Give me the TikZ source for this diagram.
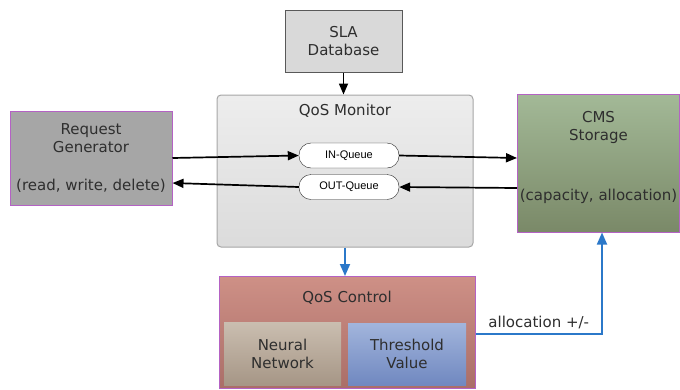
\documentclass[tikz,border=0pt]{standalone}
\usepackage{fontspec}
\setmainfont{DejaVu Sans}
\newfontfamily\queuefont{Liberation Sans}
\usetikzlibrary{arrows.meta}
\definecolor{boxpurple}{HTML}{B462C4}
\definecolor{arrblue}{HTML}{2B78C9}
\definecolor{txtgray}{HTML}{2E2E2E}
\tikzset{
  box/.style={draw=boxpurple, line width=1pt, inner sep=0pt, align=center, text=txtgray,
    font=\fontsize{15}{18}\selectfont},
  txt/.style={inner sep=0pt, align=center, text=txtgray, font=\fontsize{15}{18}\selectfont},
  queue/.style={draw=black!85, fill=white, rounded corners=12pt, minimum width=100pt,
    minimum height=25pt, inner sep=0pt, font=\queuefont\fontsize{11}{12}\selectfont},
  blk/.style={line width=1.7pt, -{Triangle[length=11pt,width=9pt]}},
  blu/.style={line width=1.8pt, draw=arrblue, -{Triangle[length=12pt,width=10pt]}, color=arrblue}
}
\begin{document}
\begin{tikzpicture}[x=1pt,y=-1pt]
\useasboundingbox (0,0) rectangle (680,389);
\node[box, draw=black!65, fill=black!15, minimum width=117pt, minimum height=62pt] (sla) at (343.5,41) {SLA\\Database};
\node[box, draw=black!35, top color=black!7, bottom color=black!14, rounded corners=4pt,
  minimum width=256pt, minimum height=152pt] (monitor) at (345,171) {};
\node[txt] (montitle) at (345,111) {QoS Monitor};
\node[queue] (inq) at (349,155.5) {IN-Queue};
\node[queue] (outq) at (349,187) {OUT-Queue};
\node[box, fill=black!35, minimum width=162pt, minimum height=94pt] (reqgen) at (91,158)
  {Request\\Generator\\[20pt](read, write, delete)};
\node[box, top color={rgb,255:red,163;green,185;blue,151}, bottom color={rgb,255:red,122;green,137;blue,104},
  minimum width=162pt, minimum height=138pt] (cms) at (598.5,163) {};
\node[txt] (cmstxt) at (598.5,157) {CMS\\Storage\\[42pt](capacity, allocation)};
\node[box, top color={rgb,255:red,206;green,144;blue,134}, bottom color={rgb,255:red,170;green,110;blue,104},
  minimum width=256pt, minimum height=112pt] (control) at (347,332.5) {};
\node[txt] (ctrltitle) at (347,298) {QoS Control};
\node[box, draw=none, top color={rgb,255:red,202;green,190;blue,176}, bottom color={rgb,255:red,166;green,150;blue,134},
  minimum width=117pt, minimum height=63pt] (neural) at (282.5,353.5) {Neural\\Network};
\node[box, draw=none, top color={rgb,255:red,162;green,181;blue,220}, bottom color={rgb,255:red,112;green,136;blue,192},
  minimum width=118pt, minimum height=62pt] (threshold) at (407,354) {Threshold\\Value};
\draw[blk] (sla.south) -- (sla.south |- monitor.north);
\draw[blk] (reqgen.east) -- (inq.west);
\draw[blk] (inq.east) -- ([yshift=5pt]cms.west);
\draw[blk] ([yshift=-25pt]cms.west) -- (outq.east);
\draw[blk] (outq.west) -- ([yshift=-25pt]reqgen.east);
\draw[blu] (monitor.south) -- (monitor.south |- control.north);
\draw[blu] ([yshift=-1.5pt]control.east) -| ([xshift=3.5pt]cms.south)
  node[pos=0.25, above=1pt, text=txtgray, font=\fontsize{15}{18}\selectfont] (alloc) {allocation +/-};
\end{tikzpicture}
\end{document}
